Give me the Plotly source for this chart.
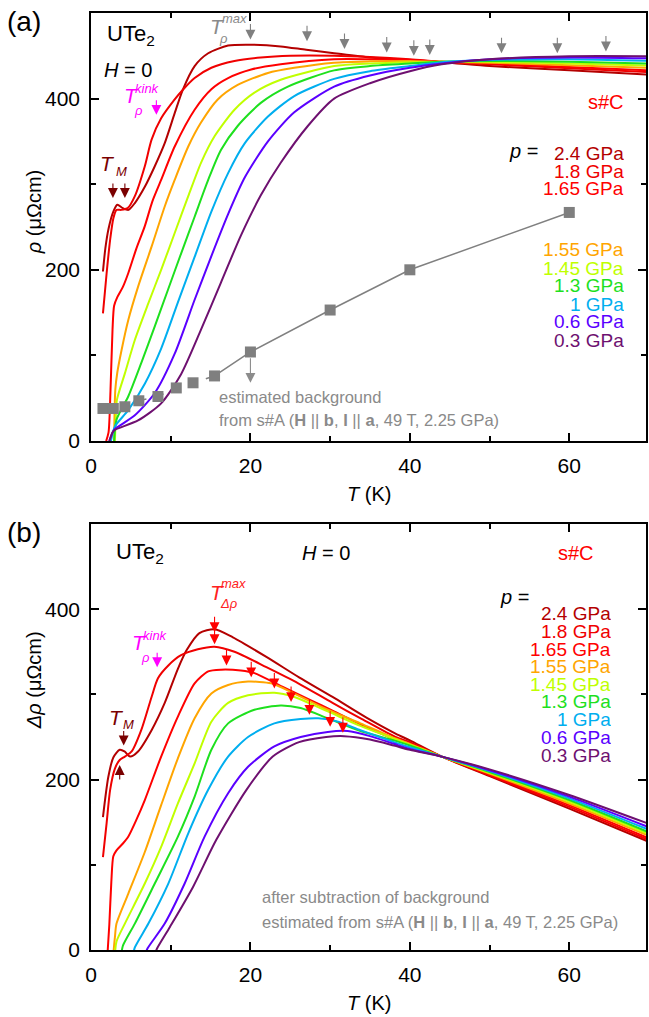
import plotly.graph_objects as go

# ---------------- data ----------------
labels = ["2.4 GPa", "1.8 GPa", "1.65 GPa", "1.55 GPa", "1.45 GPa", "1.3 GPa", "1 GPa", "0.6 GPa", "0.3 GPa"]
colors = ["#B40000", "#F00000", "#FF0000", "#FFA500", "#C0FF00", "#1EE01E", "#00AEEF", "#5A00FF", "#6E1070"]

# panel (a): rho(T)
t_a_24 = [1.5, 1.8, 2.2, 2.8, 3.3, 4.0, 4.7, 5.5, 6.75, 8.0, 9.25, 10.5, 11.5, 13.0, 14.7, 17.2, 20.0, 23.8, 27, 30.5, 35, 40, 44, 50, 60, 70]
r_a_24 = [198, 225, 248, 268, 276, 272, 270, 278, 297, 321, 348, 383, 410, 438, 453, 462, 463, 461, 457, 453, 448, 444, 442.5, 438, 433, 428]
t_a_18 = [1.5, 1.96, 2.4, 2.8, 3.2, 3.8, 4.6, 5.5, 6.75, 7.6, 8.8, 10.5, 11.5, 13, 15.1, 18, 21.3, 25, 30.5, 35, 40, 44, 50, 60, 70]
r_a_18 = [149, 196, 235, 260, 270, 270, 272, 286, 321, 352, 377, 399, 410, 424, 436, 444, 448, 450, 450, 448.5, 446, 443, 440, 435.5, 431]
t_a_165 = [1.9, 2.2, 2.45, 2.7, 2.9, 3.3, 4.0, 4.67, 5.7, 6.75, 7.7, 8.8, 10.5, 13, 15.1, 17.2, 20.1, 23.8, 30.5, 35, 40, 44, 50, 60, 70]
r_a_165 = [0, 10, 60, 130, 158, 168, 180, 196, 225, 251, 280, 305, 344, 387, 411, 424, 434, 440, 446, 446, 445, 443, 441, 437, 433]
t_a_155 = [2.9, 3.05, 3.3, 3.83, 4.67, 5.9, 7.6, 9.25, 10.5, 12.2, 13.8, 15.9, 18.4, 22.2, 25.5, 30.5, 35, 40, 44, 50, 60, 70]
r_a_155 = [0, 60, 80, 106, 141, 180, 227, 274, 305, 344, 372, 399, 416, 430, 436, 442, 443.5, 444, 443, 442, 439, 436]
t_a_145 = [3.0, 3.1, 3.25, 4.25, 5.5, 7.2, 8.8, 10.5, 12.2, 13.8, 15.5, 18, 20.5, 23.8, 30.5, 35, 40, 44, 50, 60, 70]
r_a_145 = [0, 25, 48, 79, 118, 161, 200, 243, 286, 325, 356, 387, 407, 422, 438, 441, 442.5, 443, 443, 441, 438.5]
t_a_13 = [2.9, 3.2, 4.67, 6.3, 8, 9.67, 11.3, 13, 14.7, 16.3, 18.4, 21.3, 24.7, 30.5, 35, 40, 44, 50, 60, 70]
r_a_13 = [0, 25, 52, 91, 134, 177, 219, 262, 305, 340, 368, 395, 414, 433, 438, 441, 443, 444, 443, 441]
t_a_10 = [2.5, 3.0, 4.67, 6.75, 8.8, 10.9, 13, 15.1, 17.2, 19.3, 22.2, 25.5, 30.5, 35, 40, 44, 50, 60, 70]
r_a_10 = [0, 17, 36, 67, 108, 162, 215, 268, 313, 348, 379, 403, 423, 432, 438, 442.5, 445, 446, 444]
t_a_06 = [2.3, 2.7, 3.0, 5.5, 8, 10.5, 13, 15.1, 17.2, 19.3, 22.2, 25.5, 30.5, 35, 40, 44, 50, 60, 70]
r_a_06 = [0, 10, 14, 30, 56, 102, 165, 216, 265, 308, 350, 384, 414, 427, 436, 441, 446, 448, 447]
t_a_03 = [2.3, 2.7, 3.0, 5.9, 8.8, 11.3, 13.8, 16.3, 18.8, 21.3, 23.8, 27.2, 30.5, 35, 40, 44, 50, 60, 70]
r_a_03 = [0, 10, 13, 24, 44, 78, 130, 185, 240, 287, 325, 368, 400, 418, 432, 440, 446, 449.5, 449.5]

# background (s#A)
bg_T = [1.5, 2.8, 4.25, 6.0, 8.4, 10.7, 12.8, 15.5, 20.0, 30.0, 40.0, 60.0]
bg_rho = [38, 38, 40, 47, 52, 62, 68, 76, 104, 153, 200, 267]

# panel (b): delta rho(T)
t_b_24 = [1.5, 2.17, 2.8, 3.6, 4.2, 4.9, 5.9, 7.6, 9.25, 10.9, 12.0, 13.6, 15.5, 17.8, 22, 26.1, 30.3, 34.5, 38.2, 40, 44, 50, 60, 70]
d_b_24 = [156, 203, 226, 235, 233, 227, 233, 258, 290, 330, 352, 372, 376.5, 367, 344, 320, 297, 273, 254, 246, 227, 204, 166, 127]
t_b_18 = [1.5, 1.96, 2.4, 3.0, 3.6, 4.25, 5.1, 6.3, 7.6, 8.4, 9.7, 11.3, 13.4, 15.5, 18, 22, 26, 30.3, 34, 38.2, 40, 44, 50, 60, 70]
d_b_18 = [109, 149, 188, 213, 223, 227, 233, 258, 297, 319, 334, 346, 353, 356, 350, 332, 313, 290, 271, 250, 244, 227, 205, 168, 129]
t_b_165 = [2.1, 2.3, 2.55, 2.8, 3.2, 4.0, 4.67, 5.7, 6.75, 8.8, 10.9, 13, 14.7, 16.3, 18.8, 20.5, 24, 27.6, 30.3, 34, 38.2, 40, 44, 50, 60, 70]
d_b_165 = [0, 30, 80, 110, 117, 125, 133, 153, 176, 227, 274, 313, 327, 329, 328, 325, 309, 293, 281, 264, 247, 242, 227, 206, 170, 131]
t_b_155 = [2.8, 3.0, 3.2, 4.67, 6.75, 8.8, 10.9, 13, 15.1, 17.2, 19.7, 22.6, 25.5, 29.7, 33.8, 38, 40, 44, 50, 60, 70]
d_b_155 = [-5, 15, 31, 66, 115, 170, 225, 272, 301, 311, 315, 313, 301, 282, 266, 249, 242, 227, 207, 172, 134]
t_b_145 = [3.0, 3.2, 4.25, 6.75, 8.8, 10.9, 13, 15.1, 17.2, 19.7, 23, 25.5, 29.7, 33.8, 38, 40, 44, 50, 60, 70]
d_b_145 = [-5, 10, 31, 78, 121, 172, 219, 268, 290, 299, 302, 297, 280, 263, 248, 241, 227, 208, 174, 136]
t_b_13 = [3.8, 4.0, 5.5, 8, 10.9, 13, 15.1, 17.2, 20.5, 23.8, 26.3, 29.7, 33.8, 38, 40, 44, 50, 60, 70]
d_b_13 = [-5, 5, 31, 78, 133, 180, 235, 266, 282, 287, 284, 272, 257, 246, 240, 227, 209, 176, 138]
t_b_10 = [5.3, 5.5, 7.2, 9.7, 12.2, 14.7, 17.2, 19.7, 23, 26.3, 28.5, 31, 33.8, 38, 40, 44, 50, 60, 70]
d_b_10 = [-5, 3, 31, 78, 137, 188, 227, 250, 266, 271, 272, 268, 258, 244, 238, 227, 210, 178, 141]
t_b_06 = [6.8, 7.1, 9.25, 11.75, 14.25, 17.2, 19.7, 23, 26.3, 29.7, 32.2, 35, 38, 40, 44, 50, 60, 70]
d_b_06 = [-5, 2, 31, 78, 133, 184, 215, 239, 250, 256, 257, 251, 242, 236, 227, 211, 180, 144]
t_b_03 = [8.0, 8.3, 9.9, 12.8, 15.7, 19.5, 22.8, 26.1, 29.5, 31.75, 35, 38, 40, 44, 50, 60, 70]
d_b_03 = [-5, 2, 27, 74, 129, 188, 227, 244, 250, 251, 247, 240, 235, 227, 212, 182, 148]

# characteristic-temperature arrows
tmax_T = [20.0, 27.1, 31.8, 37.1, 40.5, 42.5, 51.5, 58.5, 64.6]
tmax_rho = [469, 467, 458, 454, 450, 451, 453, 453, 455]
tm_a_T = [2.75, 4.25]
tm_a_rho = [284, 284]
kink_a = (8.2, 381)
bgarrow = (20.0, 68)
dmax_T = [15.5, 15.5, 17.0, 20.1, 23.0, 25.1, 27.4, 30.0, 31.6]
dmax_d = [373, 359, 334, 320, 307, 291, 276, 262, 255]
kink_b = (8.3, 332)
tm_b_down = (4.1, 240)
tm_b_up = (3.6, 217)

curves_a = [(t_a_24, r_a_24), (t_a_18, r_a_18), (t_a_165, r_a_165), (t_a_155, r_a_155), (t_a_145, r_a_145),
            (t_a_13, r_a_13), (t_a_10, r_a_10), (t_a_06, r_a_06), (t_a_03, r_a_03)]
curves_b = [(t_b_24, d_b_24), (t_b_18, d_b_18), (t_b_165, d_b_165), (t_b_155, d_b_155), (t_b_145, d_b_145),
            (t_b_13, d_b_13), (t_b_10, d_b_10), (t_b_06, d_b_06), (t_b_03, d_b_03)]

# ---------------- layout helpers ----------------
W, H = 649, 1017
ML, MR, MT, MB = 91, 1, 13, 67
PW, PH = W - ML - MR, H - MT - MB
FONT = "Liberation Sans, Arial, Helvetica, sans-serif"
GRAY = "#8A8A8A"


def ann(x, y, text, size=20, color="black", xanchor="center", yanchor="middle", **kw):
    return dict(x=(x - ML) / PW, y=(H - MB - y) / PH, xref="paper", yref="paper", text=text,
                showarrow=False, font=dict(family=FONT, size=size, color=color),
                xanchor=xanchor, yanchor=yanchor, **kw)


def arrow(x, y, color, xref, yref, ay=-17, w=1.1, size=1.8):
    return dict(x=x, y=y, xref=xref, yref=yref, ax=0, ay=ay, text="", showarrow=True,
                arrowhead=2, arrowsize=size, arrowwidth=w, arrowcolor=color, standoff=0)


fig = go.Figure()

for (t, r), c in zip(curves_a, colors):
    fig.add_trace(go.Scatter(x=t, y=r, mode="lines", line=dict(color=c, width=2, shape="spline", smoothing=0.7),
                             xaxis="x", yaxis="y", showlegend=False, hoverinfo="skip"))

# background points
fig.add_trace(go.Scatter(x=bg_T[:8], y=bg_rho[:8], mode="lines", line=dict(color="#808080", width=1.5, dash="dash"),
                         xaxis="x", yaxis="y", showlegend=False, hoverinfo="skip"))
fig.add_trace(go.Scatter(x=bg_T[7:], y=bg_rho[7:], mode="lines", line=dict(color="#808080", width=1.5),
                         xaxis="x", yaxis="y", showlegend=False, hoverinfo="skip"))
fig.add_trace(go.Scatter(x=bg_T, y=bg_rho, mode="markers", marker=dict(symbol="square", size=11, color="#7F7F7F"),
                         xaxis="x", yaxis="y", showlegend=False, hoverinfo="skip"))

for (t, d), c in zip(curves_b, colors):
    fig.add_trace(go.Scatter(x=t, y=d, mode="lines", line=dict(color=c, width=2, shape="spline", smoothing=0.7),
                             xaxis="x2", yaxis="y2", showlegend=False, hoverinfo="skip"))

axis_common = dict(showline=True, linecolor="black", linewidth=1.5, mirror="ticks", ticks="inside",
                   ticklen=8, tickwidth=1.5, tickcolor="black", showgrid=False, zeroline=False,
                   tickfont=dict(family=FONT, size=21, color="black"))
xr = [0, (W - MR - ML) / 8.0]
fig.update_layout(
    width=W, height=H, margin=dict(l=ML, r=MR, t=MT, b=MB),
    paper_bgcolor="white", plot_bgcolor="white", showlegend=False,
    xaxis=dict(domain=[0, 1], range=xr, tick0=0, dtick=20, anchor="y", ticklabelstandoff=5,
               minor=dict(dtick=10, ticks="inside", ticklen=5, tickwidth=1.5, tickcolor="black"), **axis_common),
    yaxis=dict(domain=[(H - MB - 441) / PH, 1], range=[0, 500], tick0=0, dtick=200, anchor="x", ticklabelstandoff=5,
               minor=dict(dtick=100, ticks="inside", ticklen=5, tickwidth=1.5, tickcolor="black"), **axis_common),
    xaxis2=dict(domain=[0, 1], range=xr, tick0=0, dtick=20, anchor="y2", ticklabelstandoff=5,
                minor=dict(dtick=10, ticks="inside", ticklen=5, tickwidth=1.5, tickcolor="black"), **axis_common),
    yaxis2=dict(domain=[0, (H - MB - 524) / PH], range=[0, 500], tick0=0, dtick=200, anchor="x2", ticklabelstandoff=5,
                minor=dict(dtick=100, ticks="inside", ticklen=5, tickwidth=1.5, tickcolor="black"), **axis_common),
)

anns = []
# panel labels and axis titles
anns += [ann(24, 22, "(a)", size=28), ann(24, 532, "(b)", size=28)]
anns += [ann(34, 212, "<i>ρ</i> (μΩcm)", size=20, textangle=-90),
         ann(34, 680, "<i>Δρ</i> (μΩcm)", size=20, textangle=-90),
         ann(370, 494, "<i>T</i> (K)", size=20), ann(370, 1003, "<i>T</i> (K)", size=20)]
# headers
anns += [ann(105, 35, "UTe<sub>2</sub>", size=22, xanchor="left"),
         ann(102, 70, "<i>H</i> = 0", size=20, xanchor="left"),
         ann(628, 102, "s#C", size=20, color="#FF0000", xanchor="right"),
         ann(509, 151, "<i>p</i> =", size=20, xanchor="left"),
         ann(114, 553, "UTe<sub>2</sub>", size=22, xanchor="left"),
         ann(301, 553, "<i>H</i> = 0", size=20, xanchor="left"),
         ann(598, 553, "s#C", size=20, color="#FF0000", xanchor="right"),
         ann(499, 597, "<i>p</i> =", size=20, xanchor="left")]
# legends
ya = [153, 171, 189, 250, 268, 286, 304, 322, 340]
yb = [613, 631, 649, 666, 684, 701, 719, 737, 755]
for lab, c, y1, y2 in zip(labels, colors, ya, yb):
    anns.append(ann(628, y1, lab, size=19, color=c, xanchor="right", height=17))
    anns.append(ann(615, y2, lab, size=19, color=c, xanchor="right", height=17))
# background notes
anns += [ann(217, 397, "estimated background", size=16.5, color=GRAY, xanchor="left"),
         ann(217, 420, "from s#A (<b>H</b> || <b>b</b>, <b>I</b> || <b>a</b>, 49 T, 2.25 GPa)", size=16.5, color=GRAY, xanchor="left"),
         ann(261, 897, "after subtraction of background", size=16.5, color=GRAY, xanchor="left"),
         ann(261, 922, "estimated from s#A (<b>H</b> || <b>b</b>, <b>I</b> || <b>a</b>, 49 T, 2.25 GPa)", size=16.5, color=GRAY, xanchor="left")]
# T labels
TMC, KC, DC = "#7A0000", "#FF00FF", "#FF2020"
anns += [ann(108, 163, "<i>T</i>", size=21, color=TMC), ann(122, 171, "<i>M</i>", size=13, color=TMC),
         ann(132, 95, "<i>T</i>", size=21, color=KC), ann(148, 89, "<i>kink</i>", size=13, color=KC), ann(139, 110, "<i>ρ</i>", size=13, color=KC),
         ann(218, 26, "<i>T</i>", size=21, color=GRAY), ann(235, 19, "<i>max</i>", size=13, color=GRAY), ann(224, 38, "<i>ρ</i>", size=13, color=GRAY),
         ann(218, 592, "<i>T</i>", size=21, color=DC), ann(234, 583, "<i>max</i>", size=13, color=DC), ann(229, 603, "<i>Δρ</i>", size=13, color=DC),
         ann(140, 642, "<i>T</i>", size=21, color=KC), ann(156, 636, "<i>kink</i>", size=13, color=KC), ann(146, 657, "<i>ρ</i>", size=13, color=KC),
         ann(117, 717, "<i>T</i>", size=21, color=TMC), ann(129, 724, "<i>M</i>", size=13, color=TMC)]
# arrows
for t, r in zip(tmax_T, tmax_rho):
    anns.append(arrow(t, r, "#808080", "x", "y"))
for t, r in zip(tm_a_T, tm_a_rho):
    anns.append(arrow(t, r, TMC, "x", "y", ay=-16))
anns.append(arrow(kink_a[0], kink_a[1], KC, "x", "y", ay=-16))
anns.append(arrow(bgarrow[0], bgarrow[1], "#8C8C8C", "x", "y", ay=-26))
for t, d in zip(dmax_T, dmax_d):
    anns.append(arrow(t, d, "#FF0000", "x2", "y2"))
anns.append(arrow(kink_b[0], kink_b[1], KC, "x2", "y2", ay=-16))
anns.append(arrow(tm_b_down[0], tm_b_down[1], TMC, "x2", "y2", ay=-16))
anns.append(arrow(tm_b_up[0], tm_b_up[1], TMC, "x2", "y2", ay=16))

fig.update_layout(annotations=anns)
fig.write_html("out.html", config={"displayModeBar": False},
               post_script="document.body.style.margin='0';document.body.style.overflow='hidden';")
